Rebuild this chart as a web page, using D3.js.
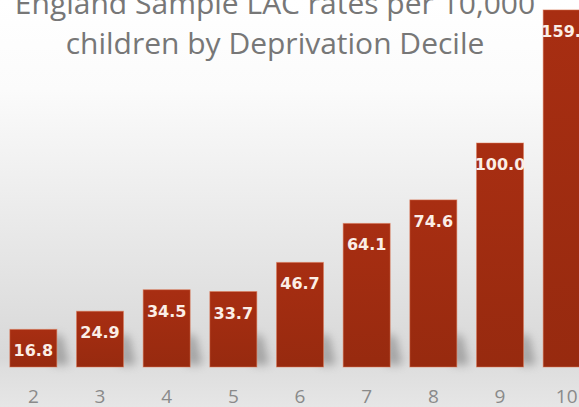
<!DOCTYPE html>
<html>
<head>
<meta charset="utf-8">
<script src="https://cdn.jsdelivr.net/npm/d3@7"></script>
<style>
  html, body { margin: 0; padding: 0; background: #fff; overflow: hidden; }
  svg { display: block; }
</style>
</head>
<body>
<svg id="chart" width="579" height="407"></svg>
<script>
// LAC rates per 10,000 children, by deprivation decile
const deciles = ["2", "3", "4", "5", "6", "7", "8", "9", "10"];
const rates = [16.8, 24.9, 34.5, 33.7, 46.7, 64.1, 74.6, 100.0, 159.4];
const titleLines = ["England Sample LAC rates per 10,000", "children by Deprivation Decile"];

const W = 579, H = 407;
const baseline = 367;
const svg = d3.select("#chart");
const defs = svg.append("defs");

// Backdrop: white fading to grey, with a lighter floor under the bars
const bg = defs.append("linearGradient").attr("id", "bg").attr("x1", 0).attr("y1", 0).attr("x2", 0).attr("y2", 1);
bg.append("stop").attr("offset", "0%").attr("stop-color", "#ffffff");
bg.append("stop").attr("offset", "22%").attr("stop-color", "#fbfbfb");
bg.append("stop").attr("offset", "88%").attr("stop-color", "#d8d8d8");
bg.append("stop").attr("offset", "90.5%").attr("stop-color", "#dedede");
bg.append("stop").attr("offset", "100%").attr("stop-color", "#e6e6e6");
svg.append("rect").attr("width", W).attr("height", H).attr("fill", "url(#bg)");

const barGrad = defs.append("linearGradient").attr("id", "barGrad").attr("x1", 0).attr("y1", 0).attr("x2", 0).attr("y2", 1);
barGrad.append("stop").attr("offset", "0%").attr("stop-color", "#a82e12");
barGrad.append("stop").attr("offset", "100%").attr("stop-color", "#972a0f");

const blur = defs.append("filter").attr("id", "soft").attr("x", "-50%").attr("y", "-50%").attr("width", "200%").attr("height", "200%");
blur.append("feGaussianBlur").attr("stdDeviation", 4);

const x = d3.scaleBand().domain(deciles).range([0, 600]).paddingInner(0.295).paddingOuter(0.1475);
const y = d3.scaleLinear().domain([0, 160]).range([baseline, baseline - 358.4]);

// Title
svg.append("g").selectAll("text").data(titleLines).join("text")
  .attr("x", 275)
  .attr("y", (d, i) => 14 + i * 40)
  .attr("text-anchor", "middle")
  .attr("font-family", "'Open Sans', sans-serif")
  .attr("font-size", 30)
  .attr("fill", "#777777")
  .text(d => d);

const data = deciles.map((d, i) => ({ decile: d, rate: rates[i] }));

// Floor shadows cast to the right of each bar
svg.append("g").selectAll("path").data(data).join("path")
  .attr("d", d => {
    const x0 = x(d.decile) + x.bandwidth() - 4;
    const h = Math.min(34, baseline - y(d.rate));
    return `M${x0},${baseline - h} L${x0 + 10},${baseline - h + 4} L${x0 + 16},${baseline - 2} L${x0},${baseline - 2} Z`;
  })
  .attr("fill", "#6f6f6f")
  .attr("opacity", 0.5)
  .attr("filter", "url(#soft)");

// Bars
svg.append("g").selectAll("rect").data(data).join("rect")
  .attr("x", d => x(d.decile))
  .attr("y", d => y(d.rate))
  .attr("width", x.bandwidth())
  .attr("height", d => baseline - y(d.rate))
  .attr("fill", "url(#barGrad)")
  .attr("stroke", "#e07a55")
  .attr("stroke-opacity", 0.5)
  .attr("stroke-width", 1);

// Value labels inside the bars
svg.append("g").selectAll("text").data(data).join("text")
  .attr("x", d => x(d.decile) + x.bandwidth() / 2)
  .attr("y", d => y(d.rate) + 27)
  .attr("text-anchor", "middle")
  .attr("font-family", "'DejaVu Sans', sans-serif")
  .attr("font-weight", "bold")
  .attr("font-size", 16)
  .attr("fill", "#fbeee6")
  .text(d => d.rate.toFixed(1));

// Category axis
const axis = svg.append("g").attr("transform", `translate(0,${baseline})`)
  .call(d3.axisBottom(x).tickSize(0).tickPadding(0));
axis.select(".domain").remove();
axis.selectAll("text")
  .attr("y", 36)
  .attr("dy", 0)
  .attr("font-family", "'Open Sans', sans-serif")
  .attr("font-size", 19)
  .attr("fill", "#8a8a8a");
</script>
</body>
</html>
